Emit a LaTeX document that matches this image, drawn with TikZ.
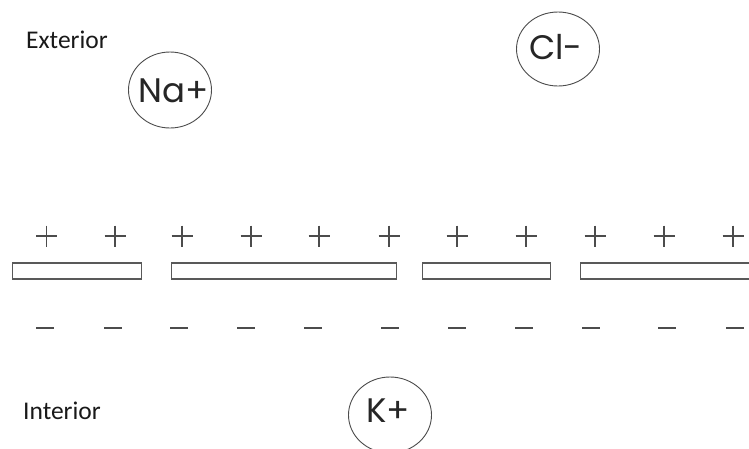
\documentclass[tikz,border=0pt]{standalone}
\usepackage{fontspec}
\setmainfont{Carlito}
\newfontfamily\ionfont{Poppins}
\usetikzlibrary{shapes.geometric}
\tikzset{
  ion/.style={draw=black!70, line width=0.9pt, ellipse, minimum width=83pt, minimum height=76pt, inner sep=0pt},
  ionlabel/.style={inner sep=0pt, text=black!85, font=\ionfont\fontsize{34}{34}\selectfont},
  side/.style={anchor=west, inner sep=0pt, text=black!90, font=\fontsize{25.5}{25.5}\selectfont},
  segment/.style={draw=black!65, line width=1.2pt, fill=white},
  sign/.style={draw=black!70, line width=1.1pt}
}
\begin{document}
\begin{tikzpicture}[x=1pt,y=-1pt]
\clip (0,0) rectangle (749,448);
\fill[white] (0,0) rectangle (749,448);

% side labels
\node[side] (ext) at (26,40) {Exterior};
\node[side] (int) at (23,411) {Interior};

% ions
\node[ion] (na) at (170,90) {};
\node[ionlabel] (naT) at (174,91) {Na+};
\node[ion, minimum height=74pt] (cl) at (558,49) {};
\node[ionlabel] (clT) at (556,47) {Cl-};
\node[ion] (k) at (390,415) {};
\node[ionlabel] (kT) at (388,411) {K+};

% membrane segments
\draw[segment] (12.7,263) rectangle (141.7,279);
\draw[segment] (171.7,263) rectangle (396.7,279);
\draw[segment] (422.7,263) rectangle (550.7,279);
\draw[segment] (580.7,263) rectangle (770,279);

% outer positive charges
\foreach \x in {46.5,115,182,251,319,389,457,526,595,664,733}
  \draw[sign] (\x-10.5,236) -- (\x+10.5,236) (\x,225.7) -- (\x,246.7);

% inner negative charges
\foreach \x in {45,113,179,246,313,390,457,524,591,667,735}
  \draw[sign] (\x-9,328) -- (\x+9,328);
\end{tikzpicture}
\end{document}
